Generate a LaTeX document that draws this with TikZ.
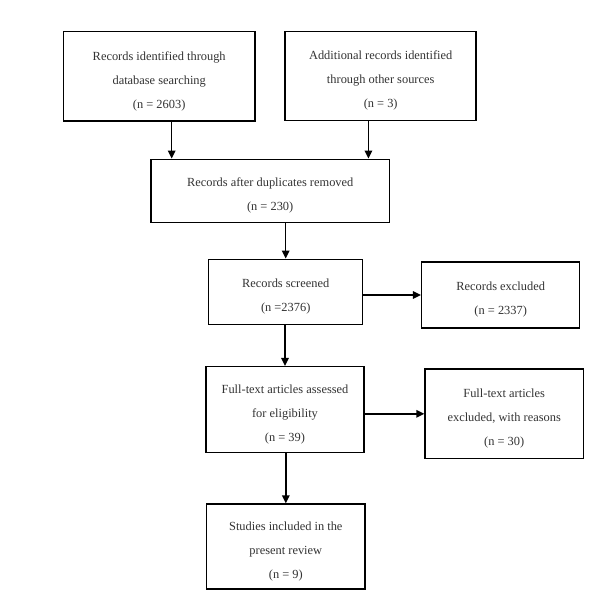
\documentclass[tikz,border=0pt]{standalone}
\usepackage{fontspec}
\setmainfont{Liberation Serif}
\usetikzlibrary{arrows.meta}
\newcommand\boxtext[1]{\raisebox{-3pt}[\height][\depth]{\begin{tabular}{@{}c@{}}#1\end{tabular}}}
\begin{document}
\begin{tikzpicture}[x=1pt,y=-1pt,
  box/.style={draw=black, line width=1.5pt, align=center, inner sep=0pt,
    font=\fontsize{12.4}{24}\selectfont, text=black!80},
  conn/.style={line width=1.5pt, -{Triangle[length=8pt,width=7.5pt]}}]
\useasboundingbox (0,0) rectangle (612,612);
\fill[white] (0,0) rectangle (612,612);
\node[box, minimum width=191.7pt, minimum height=89.3pt] (b1) at (159.2,76.3)
  {\boxtext{Records identified through\\database searching\\(n = 2603)}};
\node[box, minimum width=191pt, minimum height=89pt] (b2) at (380.7,75.8)
  {\boxtext{Additional records identified\\through other sources\\(n = 3)}};
\node[box, minimum width=238.3pt, minimum height=63pt] (b3) at (270.2,190.8)
  {\boxtext{Records after duplicates removed\\(n = 230)}};
\node[box, minimum width=154pt, minimum height=65pt] (b4) at (285.7,291.8)
  {\boxtext{Records screened\\(n =2376)}};
\node[box, minimum width=158pt, minimum height=66pt] (b5) at (500.7,295)
  {\boxtext{Records excluded\\(n = 2337)}};
\node[box, minimum width=158pt, minimum height=85.6pt] (b6) at (285,409.5)
  {\boxtext{Full-text articles assessed\\for eligibility\\(n = 39)}};
\node[box, minimum width=158.3pt, minimum height=89.7pt] (b7) at (504.2,413.8)
  {\boxtext{Full-text articles\\excluded, with reasons\\(n = 30)}};
\node[box, minimum width=158.3pt, minimum height=85pt] (b8) at (285.8,546.5)
  {\boxtext{Studies included in the\\present review\\(n = 9)}};
\draw[conn] ([xshift=12.5pt]b1.south) -- ([xshift=12.5pt]b1.south |- b3.north);
\draw[conn] ([xshift=-12.3pt]b2.south) -- ([xshift=-12.3pt]b2.south |- b3.north);
\draw[conn] (b3.south -| b4.north) -- (b4.north);
\draw[conn] (b4.east |- b5.west) -- (b5.west);
\draw[conn] (b4.south -| b6.north) -- (b6.north);
\draw[conn] (b6.east |- b7.west) -- (b7.west);
\draw[conn] (b6.south -| b8.north) -- (b8.north);
\end{tikzpicture}
\end{document}
